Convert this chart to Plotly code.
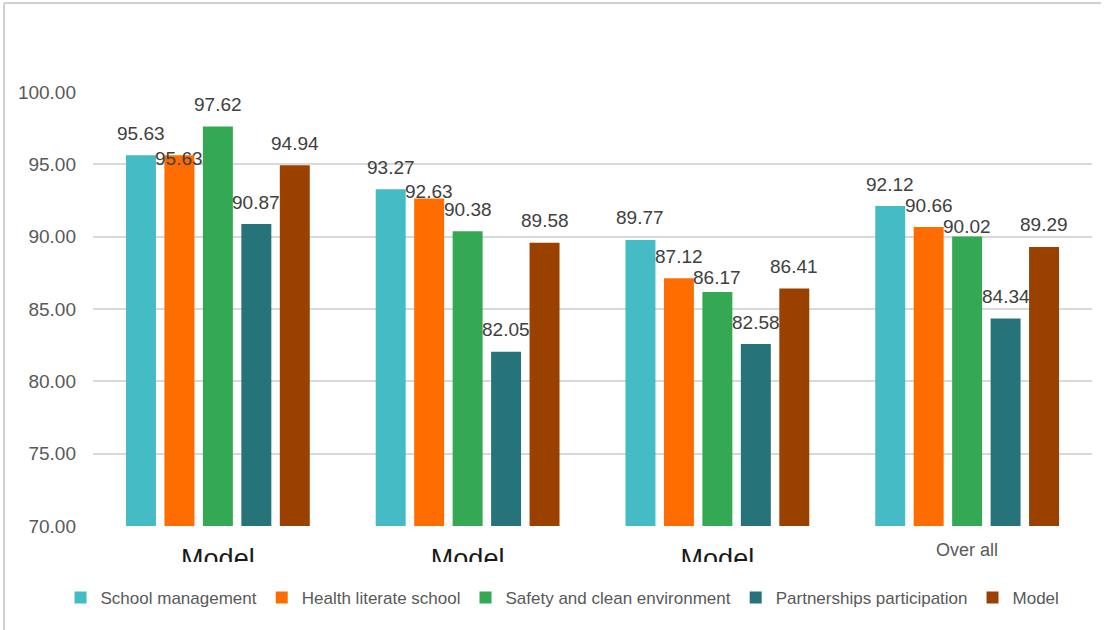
import plotly.graph_objects as go

categories = ["Model", "Model", "Model", "Over all"]
series_names = ["School management", "Health literate school", "Safety and clean environment",
                "Partnerships participation", "Model"]
school_management = [95.63, 93.27, 89.77, 92.12]
health_literate_school = [95.63, 92.63, 87.12, 90.66]
safety_clean_environment = [97.62, 90.38, 86.17, 90.02]
partnerships_participation = [90.87, 82.05, 82.58, 84.34]
model = [94.94, 89.58, 86.41, 89.29]
y_ticks = [70, 75, 80, 85, 90, 95, 100]

series_values = [school_management, health_literate_school, safety_clean_environment,
                 partnerships_participation, model]
colors = ["#45BBC6", "#FF6D00", "#35A853", "#267379", "#9A4100"]

# label vertical nudges (px above bar top), default 22
label_shift = {(1, 0): -3, (1, 1): 7, (2, 2): 15, (2, 3): 10}

slot = 0.154
bar_w = 0.12
FONT = "Liberation Sans, Arial"

fig = go.Figure()
annotations = []
for s, (name, vals, col) in enumerate(zip(series_names, series_values, colors)):
    xs = [g + (s - 2) * slot for g in range(len(categories))]
    fig.add_trace(go.Bar(x=xs, y=[v - 70 for v in vals], base=70, width=bar_w, name=name,
                         marker=dict(color=col, line=dict(width=0))))
    for g, (x, v) in enumerate(zip(xs, vals)):
        annotations.append(dict(x=x, y=v, xref="x", yref="y", text=f"{v:.2f}", showarrow=False,
                                yanchor="middle", xanchor="center", yshift=label_shift.get((s, g), 22),
                                font=dict(family=FONT, size=19, color="#404040")))

# "Over all" category label
annotations.append(dict(x=3, y=-0.055, xref="x", yref="paper", text=categories[3], showarrow=False,
                        yanchor="middle", font=dict(family=FONT, size=18, color="#595959")))

fig.update_layout(
    width=1107, height=630,
    margin=dict(l=93, r=15, t=92, b=104),
    paper_bgcolor="white", plot_bgcolor="white",
    barmode="overlay",
    showlegend=True,
    legend=dict(orientation="h", x=0.47, xanchor="center", y=-0.166, yanchor="middle",
                font=dict(family=FONT, size=17, color="#595959"),
                itemwidth=30, traceorder="normal"),
    xaxis=dict(range=[-0.5, 3.5], tickvals=[0, 1, 2], ticktext=categories[:3],
               tickfont=dict(family=FONT, size=27, color="#1a1a1a"),
               showgrid=False, zeroline=False, showline=False, ticks="", ticklabelstandoff=14),
    yaxis=dict(range=[70, 100], tickvals=y_ticks, tickformat=".2f",
               tickfont=dict(family=FONT, size=19, color="#595959"),
               showgrid=True, gridcolor="#d9d9d9", gridwidth=1.5, zeroline=False,
               showline=False, ticks="", ticklabelstandoff=16),
    annotations=annotations,
    shapes=[
        dict(type="rect", xref="paper", yref="paper", x0=-0.02, x1=1.0, y0=-0.083, y1=-0.125,
             fillcolor="white", line=dict(width=0), layer="above"),
        dict(type="line", xref="paper", yref="paper", x0=-0.089, x1=1.009, y0=1.205, y1=1.205,
             line=dict(color="#d0d0d0", width=2)),
        dict(type="line", xref="paper", yref="paper", x0=-0.089, x1=-0.089, y0=1.205, y1=-0.25,
             line=dict(color="#d0d0d0", width=2)),
    ],
)

fig.write_html("out.html")
